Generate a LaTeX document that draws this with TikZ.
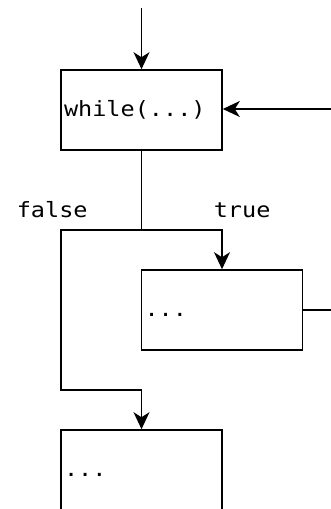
\documentclass[tikz,border=0pt]{standalone}
\usepackage{fontspec}
\newfontfamily\codefont{DejaVu Sans Mono}[FakeStretch=1.12]
\usetikzlibrary{arrows.meta}
\begin{document}
\begin{tikzpicture}[x=1pt,y=-1pt,line width=1.6pt,
  codetext/.style={font=\codefont\fontsize{21}{25}\selectfont},
  box/.style={draw, codetext, minimum width=161pt, minimum height=80pt,
    inner xsep=3pt, inner ysep=0pt, text width=155pt, align=left,
    text height=13.5pt, text depth=0pt},
  lbl/.style={codetext, inner sep=0pt, anchor=base west},
  arr/.style={-{Stealth[length=17pt,width=16pt,inset=5pt]}}]
\useasboundingbox (0,0) rectangle (331,509);
\clip (0,0) rectangle (331,509);
\node[box] (w) at (141.5,110) {while(...)};
\node[box] (b1) at (222,310) {...};
\node[box] (b2) at (141.5,470) {...};
\coordinate (in) at (141.5,8);
\coordinate (back) at (331,109);
\coordinate (out) at (331,310);
\coordinate (split) at (141.5,230);
\coordinate (turn) at (61,390);
\node[lbl] (f) at (16,217) {false};
\node[lbl] (t) at (213,217) {true};
\draw[arr] (in) -- (w.north);
\draw[arr] (back) -- (w.east |- back);
\draw (w.south) -- (split);
\draw[arr] (split) -| (b1.north);
\draw[arr] (split) -- (split -| turn) -- (turn) -| (b2.north);
\draw (b1.east) -- (out);
\end{tikzpicture}
\end{document}
